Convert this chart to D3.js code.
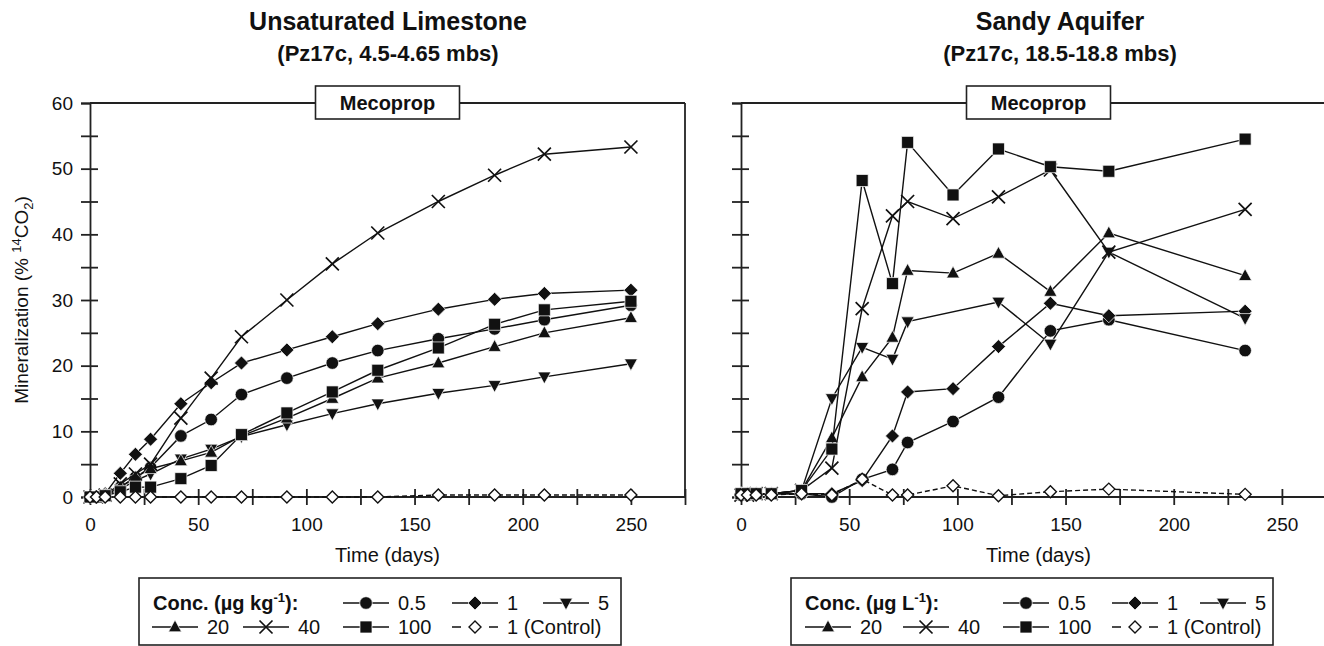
<!DOCTYPE html>
<html>
<head>
<meta charset="utf-8">
<script src="https://cdn.jsdelivr.net/npm/d3@7"></script>
<style>
  body { margin: 0; background: #fff; }
  text { font-family: "Liberation Sans", Arial, sans-serif; fill: #111; }
</style>
</head>
<body>
<div id="chart"></div>
<script>
// sampling days for the two incubations
var daysLime = [0, 3, 7, 14, 21, 28, 42, 56, 70, 91, 112, 133, 161, 187, 210, 250];
var daysSand = [0, 3, 7, 14, 28, 42, 56, 70, 77, 98, 119, 143, 170, 233];

// legend labels and marker kinds, same order as the value arrays below
var seriesLabels = ["0.5", "1", "5", "20", "40", "100", "1 (Control)"];
var seriesMarks = ["circle", "diamond", "down", "up", "cross", "square", "open"];

// Unsaturated limestone, % 14CO2
var lime05 = [0, 0, 0.2, 1.5, 3, 4.5, 9.3, 11.8, 15.6, 18.1, 20.4, 22.3, 24.1, 25.6, 27, 29.2];
var lime1 = [0, 0, 0.5, 3.6, 6.5, 8.8, 14.2, 17.4, 20.4, 22.4, 24.4, 26.4, 28.6, 30.1, 31, 31.5];
var lime5 = [0, 0, 0.3, 1.2, 2.5, 3.5, 5.8, 7.3, 9.2, 11, 12.7, 14.2, 15.8, 17, 18.3, 20.3];
var lime20 = [0, 0, 0.3, 1.5, 3, 4.3, 5.5, 6.8, 9.3, 12, 15, 18.1, 20.4, 22.9, 25, 27.3];
var lime40 = [0, 0, 0.3, 2, 3.5, 5, 12, 18.1, 24.4, 30, 35.5, 40.2, 45, 49, 52.2, 53.3];
var lime100 = [0, 0, 0.2, 0.8, 1.5, 1.5, 2.8, 4.8, 9.5, 12.8, 16, 19.3, 22.7, 26.3, 28.5, 29.8];
var limeCtrl = [0, 0, 0, 0, 0, 0, 0, 0, 0, 0, 0, 0, 0.3, 0.3, 0.3, 0.3];

// Sandy aquifer, % 14CO2 (null = not sampled)
var sand05 = [0.3, 0.3, 0.5, 0.5, 0.5, 0, 2.7, 4.2, 8.3, 11.5, 15.2, 25.3, 27, 22.3];
var sand1 = [0.5, 0.5, 0.5, 0.5, 0.5, 0.5, 2.5, 9.3, 16, 16.5, 22.9, 29.5, 27.6, 28.3];
var sand5 = [0.5, 0.5, 0.5, 0.5, 1, 15, 22.8, 21, 26.7, null, 29.7, 23.3, 37.3, 27.2];
var sand20 = [0.5, 0.5, 0.5, 0.5, 1, 9, 18.3, 24.3, 34.5, 34.1, 37.1, 31.3, 40.2, 33.7];
var sand40 = [0.3, 0.3, 0.5, 0.5, 1, 4.4, 28.7, 42.8, 45, 42.4, 45.7, 49.8, 37.3, 43.8];
var sand100 = [0.5, 0.5, 0.5, 0.5, 1, 7.3, 48.2, 32.5, 54, 46, 53, 50.3, 49.6, 54.5];
var sandCtrl = [0.3, 0.3, 0.3, 0.3, 0.5, 0.3, 2.7, 0.3, 0.3, 1.7, 0.2, 0.8, 1.2, 0.4];

var yTicks = d3.range(0, 61, 5);
var xTicks = d3.range(0, 276, 25);

var svgWidth = 1324;
var svgHeight = 646;

var svg = d3.select("#chart").append("svg")
  .attr("width", svgWidth)
  .attr("height", svgHeight);

var yScale = d3.scaleLinear().domain([0, 60]).range([497, 103]);

// marker path, centred on 0,0
function markPath(kind) {
  if (kind === "circle") return d3.symbol(d3.symbolCircle, 125)();
  if (kind === "square") return "M-6,-6H6V6H-6Z";
  if (kind === "diamond") return "M0,-7L7,0L0,7L-7,0Z";
  if (kind === "open") return "M0,-6L6,0L0,6L-6,0Z";
  if (kind === "up") return "M0,-7L6.5,4.8L-6.5,4.8Z";
  if (kind === "down") return "M0,7L6.5,-4.8L-6.5,-4.8Z";
  return "M-6.5,-6.5L6.5,6.5M-6.5,6.5L6.5,-6.5";
}

function drawMark(g, kind, x, y) {
  var p = g.append("path")
    .attr("d", markPath(kind))
    .attr("transform", "translate(" + x + "," + y + ")");
  if (kind === "cross") {
    p.attr("fill", "none").attr("stroke", "#111").attr("stroke-width", 1.7);
  } else if (kind === "open") {
    p.attr("fill", "#fff").attr("stroke", "#111").attr("stroke-width", 1.4);
  } else {
    p.attr("fill", "#111").attr("stroke", "#fff").attr("stroke-width", 0.7);
  }
}

function panel(opt) {
  var x = d3.scaleLinear().domain([0, 275]).range([opt.left, opt.left + 595]);
  var g = svg.append("g");

  // frame: top line and (left panel only) right line
  g.append("line")
    .attr("x1", opt.left).attr("x2", opt.right)
    .attr("y1", yScale(60)).attr("y2", yScale(60))
    .attr("stroke", "#222").attr("stroke-width", 1.8);
  if (opt.rightLine) {
    g.append("line")
      .attr("x1", x(275)).attr("x2", x(275))
      .attr("y1", yScale(60)).attr("y2", yScale(0))
      .attr("stroke", "#222").attr("stroke-width", 1.8);
  }

  var yAxis = d3.axisLeft(yScale)
    .tickValues(yTicks)
    .tickSize(9)
    .tickPadding(8)
    .tickFormat(function(d) { return opt.yLabels && d % 10 === 0 ? d : ""; });
  var ya = g.append("g")
    .attr("transform", "translate(" + opt.left + ",0)")
    .call(yAxis);
  ya.selectAll(".tick line").attr("x1", function(d) { return d === 60 ? 0 : 8; });

  var xAxis = d3.axisBottom(x)
    .tickValues(xTicks)
    .tickSize(8)
    .tickPadding(13)
    .tickFormat(function(d) { return d % 50 === 0 ? d : ""; });
  var xa = g.append("g")
    .attr("transform", "translate(0," + yScale(0) + ")")
    .call(xAxis);
  xa.selectAll(".tick line").attr("y1", -8);
  xa.select(".domain").attr("d", "M" + opt.left + ",0H" + opt.right);

  [ya, xa].forEach(function(a) {
    a.selectAll("line, path").attr("stroke", "#222").attr("stroke-width", 1.8);
    a.selectAll("text").style("font-size", "19px").attr("fill", "#111");
  });

  // series lines then markers
  opt.series.forEach(function(vals, i) {
    var pts = opt.days.map(function(d, j) { return [d, vals[j]]; })
      .filter(function(p) { return p[1] !== null; });
    var line = d3.line()
      .x(function(p) { return x(p[0]); })
      .y(function(p) { return yScale(p[1]); });
    g.append("path")
      .attr("d", line(pts))
      .attr("fill", "none")
      .attr("stroke", "#111")
      .attr("stroke-width", 1.4)
      .attr("stroke-dasharray", seriesMarks[i] === "open" ? "5,3" : null);
    pts.forEach(function(p) {
      drawMark(g, seriesMarks[i], x(p[0]), yScale(p[1]));
    });
  });

  // "Mecoprop" box on the top line
  var cx = x(137.5);
  g.append("rect")
    .attr("x", cx - 72).attr("y", 86)
    .attr("width", 144).attr("height", 33)
    .attr("fill", "#fff").attr("stroke", "#222").attr("stroke-width", 1.6);
  g.append("text")
    .attr("x", cx).attr("y", 110)
    .attr("text-anchor", "middle")
    .style("font-size", "20px").style("font-weight", "bold")
    .text("Mecoprop");

  // titles
  g.append("text")
    .attr("x", opt.titleX).attr("y", 30)
    .attr("text-anchor", "middle")
    .style("font-size", "25px").style("font-weight", "bold")
    .text(opt.title);
  g.append("text")
    .attr("x", opt.titleX).attr("y", 61)
    .attr("text-anchor", "middle")
    .style("font-size", "22px").style("font-weight", "bold")
    .text(opt.subtitle);

  g.append("text")
    .attr("x", cx).attr("y", 562)
    .attr("text-anchor", "middle")
    .style("font-size", "20px")
    .text("Time (days)");

  // legend
  var lg = g.append("g");
  lg.append("rect")
    .attr("x", opt.legend.x).attr("y", 578)
    .attr("width", opt.legend.w).attr("height", 67)
    .attr("fill", "#fff").attr("stroke", "#222").attr("stroke-width", 1.6);
  var head = lg.append("text")
    .attr("x", opt.legend.x + 14).attr("y", 610)
    .style("font-size", "20px").style("font-weight", "bold");
  head.append("tspan").text("Conc. (\u00b5g " + opt.unit);
  head.append("tspan").attr("dy", -8).style("font-size", "13px").text("-1");
  head.append("tspan").attr("dy", 8).text("):");

  var slots = [
    [opt.legend.cols[2], 603], [opt.legend.cols[3], 603], [opt.legend.cols[4], 603],
    [opt.legend.cols[0], 627], [opt.legend.cols[1], 627], [opt.legend.cols[2], 627], [opt.legend.cols[3], 627]
  ];
  seriesLabels.forEach(function(lab, i) {
    var sx = opt.legend.x + slots[i][0];
    var sy = slots[i][1];
    lg.append("line")
      .attr("x1", sx).attr("x2", sx + 46)
      .attr("y1", sy).attr("y2", sy)
      .attr("stroke", "#111").attr("stroke-width", 1.6)
      .attr("stroke-dasharray", seriesMarks[i] === "open" ? "9,28" : null);
    drawMark(lg, seriesMarks[i], sx + 23, sy);
    lg.append("text")
      .attr("x", sx + 55).attr("y", sy + 7)
      .style("font-size", "20px")
      .text(lab);
  });
}

panel({
  left: 90, right: 685, rightLine: true, yLabels: true,
  days: daysLime,
  series: [lime05, lime1, lime5, lime20, lime40, lime100, limeCtrl],
  title: "Unsaturated Limestone", subtitle: "(Pz17c, 4.5-4.65 mbs)", titleX: 388,
  unit: "kg",
  legend: { x: 139, w: 482, cols: [13, 104, 204, 313, 404] }
});

panel({
  left: 741, right: 1324, rightLine: false, yLabels: false,
  days: daysSand,
  series: [sand05, sand1, sand5, sand20, sand40, sand100, sandCtrl],
  title: "Sandy Aquifer", subtitle: "(Pz17c, 18.5-18.8 mbs)", titleX: 1060,
  unit: "L",
  legend: { x: 791, w: 482, cols: [14, 112, 212, 321, 409] }
});

// y axis title
var yt = svg.append("text")
  .attr("transform", "translate(28,300) rotate(-90)")
  .attr("text-anchor", "middle")
  .style("font-size", "19px");
yt.append("tspan").text("Mineralization (% ");
yt.append("tspan").attr("dy", -7).style("font-size", "13px").text("14");
yt.append("tspan").attr("dy", 7).text("CO");
yt.append("tspan").attr("dy", 5).style("font-size", "13px").text("2");
yt.append("tspan").attr("dy", -5).text(")");
</script>
</body>
</html>
